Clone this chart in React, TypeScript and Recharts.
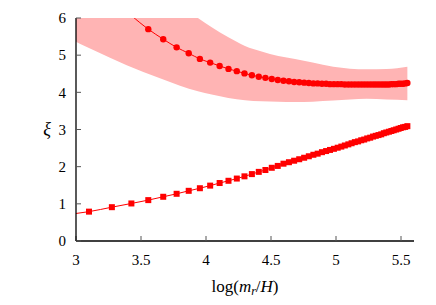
import React from "react";
import { ComposedChart, Area, Line, XAxis, YAxis } from "recharts";

// x = log(m_r/H) at each measured point
const xVals = [
  3.1, 3.276, 3.426, 3.556, 3.671, 3.774, 3.867, 3.953, 4.032, 4.105,
  4.173, 4.237, 4.296, 4.353, 4.406, 4.457, 4.506, 4.552, 4.596, 4.638,
  4.678, 4.717, 4.755, 4.791, 4.826, 4.859, 4.892, 4.924, 4.954, 4.984,
  5.013, 5.041, 5.068, 5.095, 5.12, 5.145, 5.17, 5.194, 5.217, 5.24,
  5.263, 5.285, 5.306, 5.327, 5.348, 5.368, 5.387, 5.407, 5.426, 5.444,
  5.463, 5.481, 5.498, 5.516, 5.532, 5.549,
];

// circles (upper series)
const circleVals = [
  7.3, 6.6, 6.07, 5.7, 5.43, 5.21, 5.05, 4.9, 4.8, 4.71,
  4.63, 4.57, 4.51, 4.46, 4.42, 4.39, 4.36, 4.33, 4.31, 4.3,
  4.28, 4.27, 4.26, 4.25, 4.24, 4.24, 4.23, 4.23, 4.22, 4.22,
  4.22, 4.22, 4.21, 4.21, 4.21, 4.21, 4.21, 4.21, 4.21, 4.21,
  4.21, 4.21, 4.21, 4.21, 4.21, 4.21, 4.21, 4.21, 4.22, 4.22,
  4.22, 4.23, 4.23, 4.23, 4.24, 4.25,
];

// squares (lower series)
const squareVals = [
  0.79, 0.91, 1.01, 1.1, 1.19, 1.27, 1.35, 1.42, 1.49, 1.56,
  1.62, 1.68, 1.74, 1.8, 1.86, 1.91, 1.97, 2.02, 2.08, 2.12,
  2.16, 2.2, 2.24, 2.28, 2.32, 2.35, 2.39, 2.42, 2.45, 2.48,
  2.51, 2.54, 2.57, 2.6, 2.63, 2.66, 2.68, 2.71, 2.73, 2.76,
  2.78, 2.81, 2.83, 2.85, 2.87, 2.9, 2.92, 2.94, 2.96, 2.98,
  3.0, 3.02, 3.04, 3.06, 3.07, 3.09,
];

// the lower curve continues to the left edge
const squareLeadX = 2.9;
const squareLeadVal = 0.7;

// shaded band around the upper series
const bandX = [2.9, 3.0, 3.133, 3.39, 3.646, 3.8, 3.938, 4.044, 4.172, 4.3, 4.428, 4.556, 4.685, 4.82, 4.979, 5.236, 5.39, 5.549];
const bandLow = [5.58, 5.36, 5.14, 4.73, 4.38, 4.18, 4.03, 3.94, 3.85, 3.79, 3.76, 3.75, 3.74, 3.75, 3.78, 3.83, 3.81, 3.79];
const bandHigh = [9.0, 8.7, 8.35, 7.6, 6.95, 6.4, 6.0, 5.75, 5.48, 5.25, 5.1, 4.98, 4.9, 4.8, 4.69, 4.62, 4.63, 4.69];

const xTicks = [3, 3.5, 4, 4.5, 5, 5.5];
const yTicks = [0, 1, 2, 3, 4, 5, 6];

const circleData = xVals.map((x, i) => ({ x, v: circleVals[i] }));
const squareData = [{ x: squareLeadX, v: squareLeadVal, lead: true }].concat(
  xVals.map((x, i) => ({ x, v: squareVals[i], lead: false }))
);
const bandData = bandX.map((x, i) => ({ x, band: [bandLow[i], bandHigh[i]] }));

const RED = "#ff0000";
const FONT = "'Liberation Serif', 'DejaVu Serif', serif";

const CircleDot = (p: any) => {
  if (p.value > 6 || p.cx == null || p.cy == null) return <g key={p.key} />;
  return <circle key={p.key} cx={p.cx} cy={p.cy} r={3.2} fill={RED} />;
};

const SquareDot = (p: any) => {
  if (p.payload?.lead || p.cx == null || p.cy == null) return <g key={p.key} />;
  return <rect key={p.key} x={p.cx - 3} y={p.cy - 3} width={6} height={6} fill={RED} />;
};

const XTitle = (p: any) => {
  const vb = p.viewBox;
  return (
    <text x={vb.x + vb.width / 2} y={vb.y + 51} textAnchor="middle" fontFamily={FONT} fontSize={17} fill="#000">
      log(<tspan fontStyle="italic">m</tspan>
      <tspan fontStyle="italic" fontSize={12} dy={3}>r</tspan>
      <tspan dy={-3}>/</tspan>
      <tspan fontStyle="italic">H</tspan>)
    </text>
  );
};

const YTitle = (p: any) => {
  const vb = p.viewBox;
  return (
    <text x={47} y={vb.y + vb.height / 2 + 5} textAnchor="middle" fontFamily={FONT} fontSize={18} fontStyle="italic" fill="#000">
      ξ
    </text>
  );
};

const tickStyle = { fill: "#000", fontSize: 15, fontFamily: FONT };
const frame = { stroke: "#000", strokeWidth: 1.3 };
const tickLine = { stroke: "#555", strokeWidth: 1 };

export default function App() {
  return (
    <div style={{ position: "absolute", left: 0, top: 0, width: 436, height: 305, background: "#fff" }}>
      <ComposedChart width={436} height={305} margin={{ top: 18, right: 22, bottom: 34, left: 0 }}>
        <Area
          data={bandData}
          dataKey="band"
          type="monotone"
          stroke="none"
          fill="#ffb4b4"
          fillOpacity={1}
          isAnimationActive={false}
        />
        <Line
          data={circleData}
          dataKey="v"
          type="monotone"
          stroke={RED}
          strokeWidth={1}
          dot={CircleDot}
          activeDot={false}
          isAnimationActive={false}
        />
        <Line
          data={squareData}
          dataKey="v"
          type="monotone"
          stroke={RED}
          strokeWidth={1}
          dot={SquareDot}
          activeDot={false}
          isAnimationActive={false}
        />
        <XAxis
          dataKey="x"
          type="number"
          domain={[3, 5.6]}
          ticks={xTicks}
          allowDataOverflow
          height={30}
          tickSize={-5}
          tickMargin={18}
          axisLine={frame}
          tickLine={tickLine}
          tick={tickStyle}
          label={<XTitle />}
        />
        <XAxis
          xAxisId="top"
          orientation="top"
          dataKey="x"
          type="number"
          domain={[3, 5.6]}
          ticks={xTicks}
          allowDataOverflow
          height={0}
          tickSize={-5}
          tick={false}
          axisLine={frame}
          tickLine={tickLine}
        />
        <YAxis
          type="number"
          domain={[0, 6]}
          ticks={yTicks}
          allowDataOverflow
          width={76}
          tickSize={-5}
          tickMargin={15}
          axisLine={frame}
          tickLine={tickLine}
          tick={tickStyle}
          label={<YTitle />}
        />
        <YAxis
          yAxisId="right"
          orientation="right"
          type="number"
          domain={[0, 6]}
          ticks={yTicks}
          allowDataOverflow
          width={0}
          tickSize={-5}
          tick={false}
          axisLine={frame}
          tickLine={tickLine}
        />
      </ComposedChart>
    </div>
  );
}
